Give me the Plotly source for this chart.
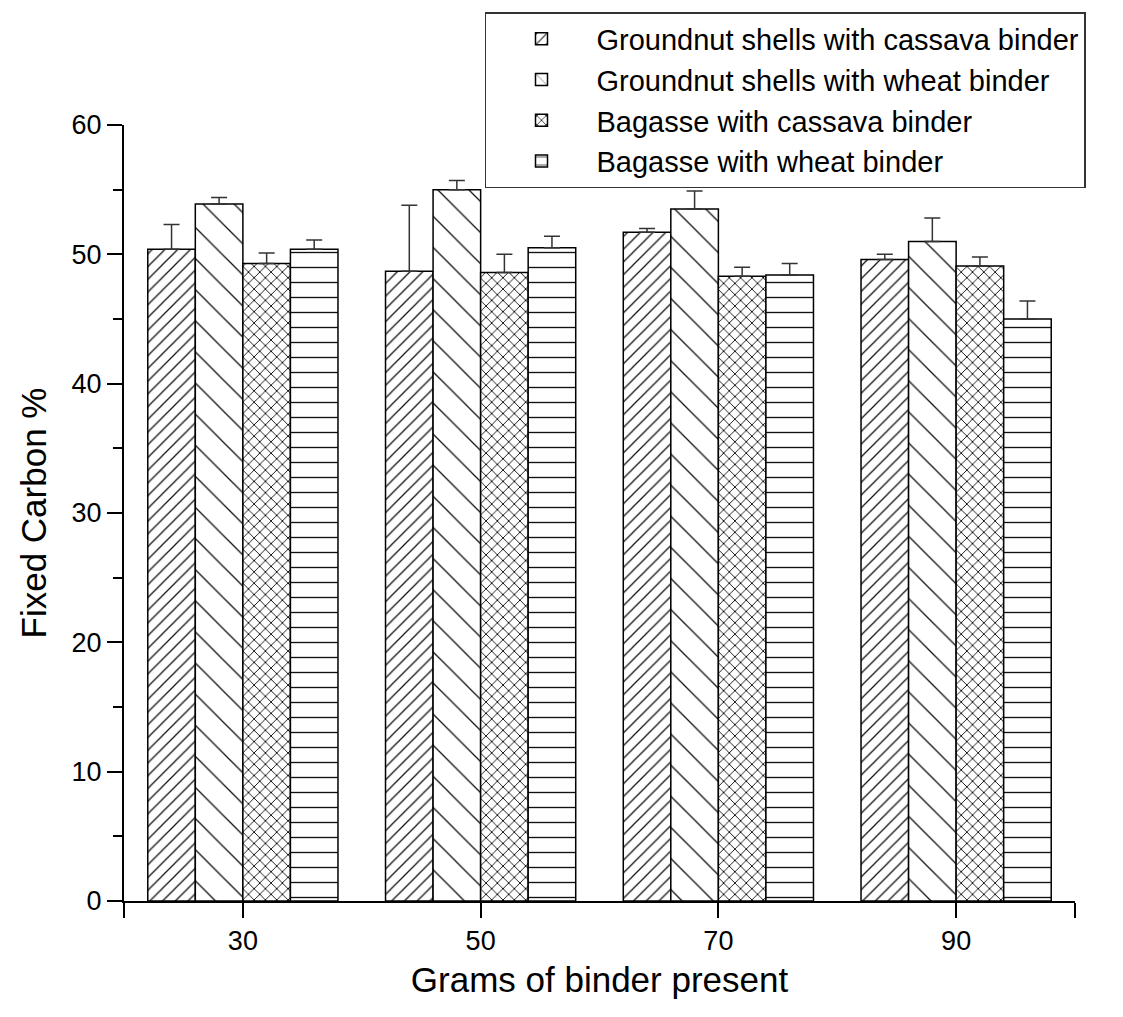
import plotly.graph_objects as go

binder_grams = [30, 50, 70, 90]
series_names = [
    "Groundnut shells with cassava binder",
    "Groundnut shells with wheat binder",
    "Bagasse with cassava binder",
    "Bagasse with wheat binder",
]
gn_cassava = [50.4, 48.7, 51.7, 49.6]
gn_cassava_err = [1.9, 5.1, 0.3, 0.4]
gn_wheat = [53.9, 55.0, 53.5, 51.0]
gn_wheat_err = [0.5, 0.7, 1.4, 1.8]
bg_cassava = [49.3, 48.6, 48.3, 49.1]
bg_cassava_err = [0.8, 1.4, 0.7, 0.7]
bg_wheat = [50.4, 50.5, 48.4, 45.0]
bg_wheat_err = [0.7, 0.9, 0.9, 1.4]

values = [gn_cassava, gn_wheat, bg_cassava, bg_wheat]
errors = [gn_cassava_err, gn_wheat_err, bg_cassava_err, bg_wheat_err]
patterns = [("/", 9, 0.14), ("\\", 22, 0.06), ("x", 8, 0.22), ("-", 15, 0.09)]

fig = go.Figure()
for name, v, e, (shape, size, sol) in zip(series_names, values, errors, patterns):
    fig.add_trace(go.Bar(
        x=binder_grams, y=v, name=name,
        marker=dict(color="white", line=dict(color="black", width=1.5),
                    pattern=dict(shape=shape, fgcolor="#111111", bgcolor="white",
                                 fgopacity=1, size=size, solidity=sol,
                                 fillmode="overlay")),
        error_y=dict(type="data", symmetric=False, array=e, arrayminus=[0] * len(e),
                     color="#333333", thickness=1.5, width=8),
    ))

font_family = "Arial, Liberation Sans, sans-serif"
fig.update_layout(
    width=1123, height=1017,
    margin=dict(l=124, r=48, t=125, b=116),
    paper_bgcolor="white", plot_bgcolor="white",
    barmode="group", bargap=0.2, bargroupgap=0,
    font=dict(family=font_family, color="black", size=27),
    showlegend=True,
    legend=dict(x=0.3796, y=1.1456, xanchor="left", yanchor="top",
                bordercolor="#333333", borderwidth=1.5, bgcolor="white",
                font=dict(size=29, family=font_family), itemwidth=100,
                tracegroupgap=0),
    xaxis=dict(range=[20, 100], tickmode="array",
               tickvals=[20, 30, 50, 70, 90, 100],
               ticktext=["", "30", "50", "70", "90", ""],
               showline=True, linecolor="black", linewidth=2,
               ticks="outside", ticklen=15, tickwidth=2, tickcolor="black",
               showgrid=False, zeroline=False,
               tickfont=dict(size=27),
               title=dict(text="Grams of binder present", font=dict(size=35), standoff=12)),
    yaxis=dict(range=[0, 60], tickmode="array", tickvals=[0, 10, 20, 30, 40, 50, 60],
               showline=True, linecolor="black", linewidth=2,
               ticks="outside", ticklen=15, tickwidth=2, tickcolor="black",
               minor=dict(tickvals=[5, 15, 25, 35, 45, 55], ticks="outside",
                          ticklen=9, tickwidth=2, tickcolor="black", showgrid=False),
               showgrid=False, zeroline=False,
               tickfont=dict(size=27),
               title=dict(text="Fixed Carbon %", font=dict(size=35), standoff=14)),
)

fig.write_html("out.html")
